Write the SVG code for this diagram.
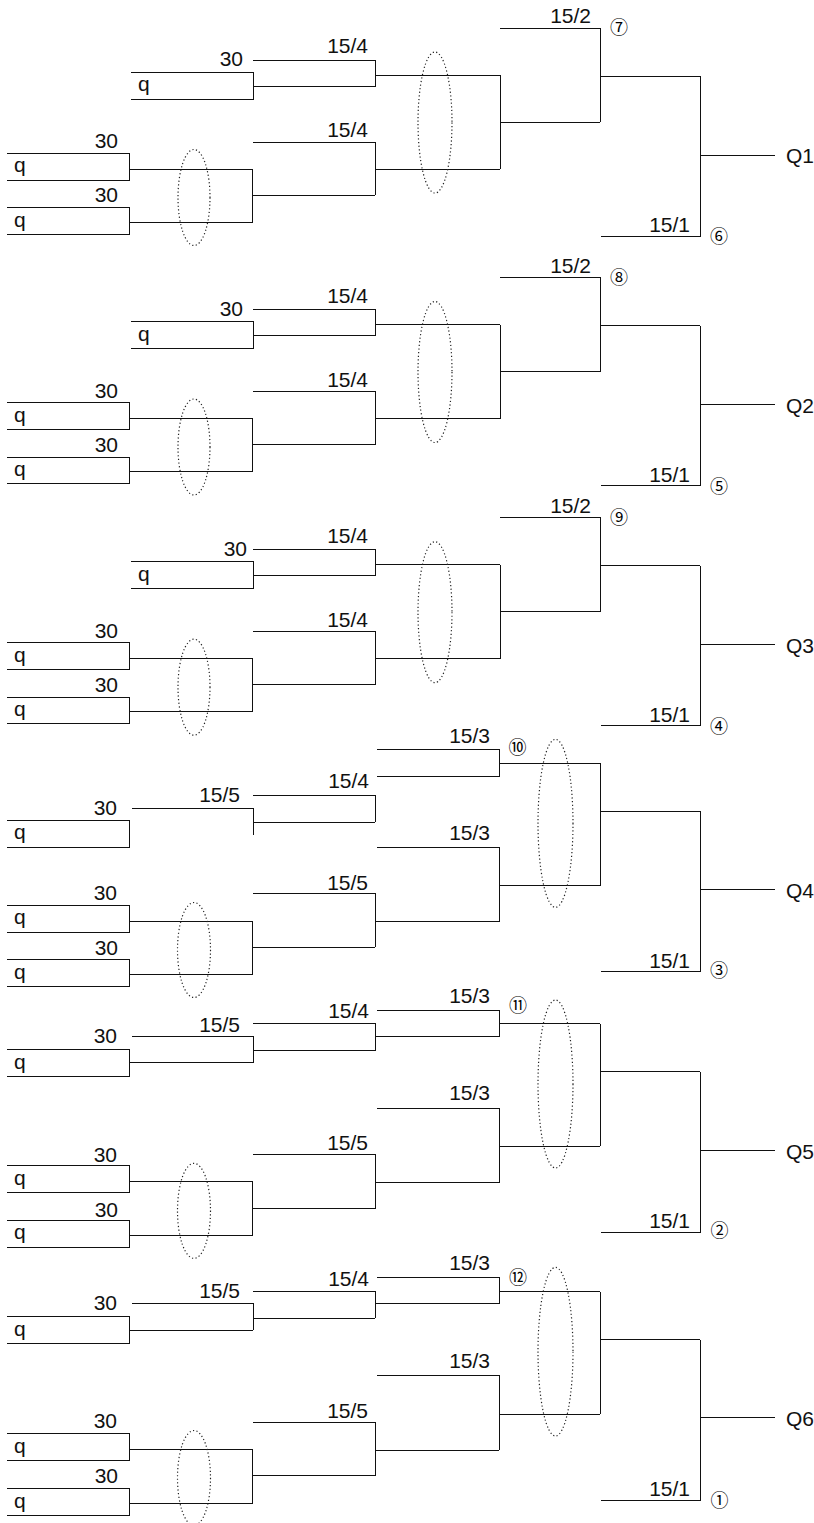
<svg xmlns="http://www.w3.org/2000/svg" width="814" height="1523" viewBox="0 0 814 1523">
<style>
  .ln{fill:none;stroke:#111;stroke-width:1;shape-rendering:crispEdges}
  .el{fill:none;stroke:#222;stroke-width:1.2;stroke-dasharray:1.2 2.4}
  text{font-family:"Liberation Sans",Arial,sans-serif;font-size:21px;fill:#111}
  .e{text-anchor:end}
  .c{font-family:"Noto Sans CJK JP","DejaVu Sans",sans-serif;font-size:18px;text-anchor:middle;fill:#000}
</style>
<rect width="814" height="1523" fill="#fff"/>

<g id="block-Q1">
  <g id="b1-connectors" class="ln"><path d="M253,60H375V86H253M375,75H500M130,169H252V222H130M252,195H375M253,142H375V195M375,169H500M500,75V169M500,122H600M500,28H600V122M600,76H700M601,236H700V76M700,155H775"/></g>
  <g id="b1-in1"><path class="ln" d="M131,72H253V99H131"/><text class="e" x="243" y="66">30</text><text x="138" y="91">q</text></g>
  <g id="b1-in2"><path class="ln" d="M7,153H129.5V180H7"/><text class="e" x="118" y="148">30</text><text x="14" y="172">q</text></g>
  <g id="b1-in3"><path class="ln" d="M7,207.5H129.5V234H7"/><text class="e" x="118" y="202">30</text><text x="14" y="226.5">q</text></g>
  <g id="b1-labels"><text class="e" x="368" y="53">15/4</text><text class="e" x="368" y="137">15/4</text><text class="e" x="591" y="23">15/2</text><text class="e" x="690" y="232">15/1</text></g>
  <g id="b1-marks"><text class="c" x="619" y="34">⑦</text><text class="c" x="719" y="243">⑥</text></g>
  <g id="b1-out"><text x="786" y="163">Q1</text></g>
  <g id="b1-groups"><ellipse class="el" cx="194" cy="197.5" rx="16" ry="48"/><ellipse class="el" cx="435" cy="122.5" rx="17" ry="70.5"/></g>
</g>

<g id="block-Q2" transform="translate(0,249.5)">
  <g id="b2-connectors" class="ln"><path d="M253,60H375V86H253M375,75H500M130,169H252V222H130M252,195H375M253,142H375V195M375,169H500M500,75V169M500,122H600M500,28H600V122M600,76H700M601,236H700V76M700,155H775"/></g>
  <g id="b2-in1"><path class="ln" d="M131,72H253V99H131"/><text class="e" x="243" y="66">30</text><text x="138" y="91">q</text></g>
  <g id="b2-in2"><path class="ln" d="M7,153H129.5V180H7"/><text class="e" x="118" y="148">30</text><text x="14" y="172">q</text></g>
  <g id="b2-in3"><path class="ln" d="M7,207.5H129.5V234H7"/><text class="e" x="118" y="202">30</text><text x="14" y="226.5">q</text></g>
  <g id="b2-labels"><text class="e" x="368" y="53">15/4</text><text class="e" x="368" y="137">15/4</text><text class="e" x="591" y="23">15/2</text><text class="e" x="690" y="232">15/1</text></g>
  <g id="b2-marks"><text class="c" x="619" y="34">⑧</text><text class="c" x="719" y="243">⑤</text></g>
  <g id="b2-out"><text x="786" y="163">Q2</text></g>
  <g id="b2-groups"><ellipse class="el" cx="194" cy="197.5" rx="16" ry="48"/><ellipse class="el" cx="435" cy="122.5" rx="17" ry="70.5"/></g>
</g>

<g id="block-Q3" transform="translate(0,489.7)">
  <g id="b3-connectors" class="ln"><path d="M253,60H375V86H253M375,75H500M130,169H252V222H130M252,195H375M253,142H375V195M375,169H500M500,75V169M500,122H600M500,28H600V122M600,76H700M601,236H700V76M700,155H775"/></g>
  <g id="b3-in1"><path class="ln" d="M131,72H253V99H131"/><text class="e" x="247" y="66">30</text><text x="138" y="91">q</text></g>
  <g id="b3-in2"><path class="ln" d="M7,153H129.5V180H7"/><text class="e" x="118" y="148">30</text><text x="14" y="172">q</text></g>
  <g id="b3-in3"><path class="ln" d="M7,207.5H129.5V234H7"/><text class="e" x="118" y="202">30</text><text x="14" y="226.5">q</text></g>
  <g id="b3-labels"><text class="e" x="368" y="53">15/4</text><text class="e" x="368" y="137">15/4</text><text class="e" x="591" y="23">15/2</text><text class="e" x="690" y="232">15/1</text></g>
  <g id="b3-marks"><text class="c" x="619" y="34">⑨</text><text class="c" x="719" y="243">④</text></g>
  <g id="b3-out"><text x="786" y="163">Q3</text></g>
  <g id="b3-groups"><ellipse class="el" cx="194" cy="197.5" rx="16" ry="48"/><ellipse class="el" cx="435" cy="122.5" rx="17" ry="70.5"/></g>
</g>

<g id="block-Q4">
  <g id="b4-connectors" class="ln"><path d="M377,749H499V776H377M499,763H600M253,795H375V822M131.5,808H253V834.5M253,822H375M377,847.5H499V921.5M499,885.5H600M253,893.5H375V947M375,921.5H499M130,921H252V974.5H130M252,947H375M600,763V885.5M600,811H700M601,971.5H700V811M700,889.5H775"/></g>
  <g id="b4-in1"><path class="ln" d="M7,820H129.5V847H7"/><text class="e" x="117" y="815">30</text><text x="14" y="839">q</text></g>
  <g id="b4-in2"><path class="ln" d="M7,905H129.5V932H7"/><text class="e" x="117" y="900">30</text><text x="14" y="924">q</text></g>
  <g id="b4-in3"><path class="ln" d="M7,959.5H129.5V986.5H7"/><text class="e" x="118" y="955">30</text><text x="14" y="978.5">q</text></g>
  <g id="b4-labels"><text class="e" x="490" y="743">15/3</text><text class="e" x="369" y="788">15/4</text><text class="e" x="240" y="802">15/5</text><text class="e" x="490" y="840">15/3</text><text class="e" x="368" y="890">15/5</text><text class="e" x="690" y="967.5">15/1</text></g>
  <g id="b4-marks"><text class="c" x="517.5" y="753.5">⑩</text><text class="c" x="719" y="977">③</text></g>
  <g id="b4-out"><text x="786" y="897.5">Q4</text></g>
  <g id="b4-groups"><ellipse class="el" cx="194" cy="950" rx="16.5" ry="47.5"/><ellipse class="el" cx="555.5" cy="823.3" rx="17.5" ry="84"/></g>
</g>

<g id="block-Q5">
  <g id="b5-connectors" class="ln"><path d="M377,1010H499V1036.5M499,1023.5H600M253,1023.5H375V1050.5M375,1036.5H499M131.5,1036.5H253V1062.5M253,1050.5H375M130,1062.5H253M377,1108H499V1182.5M499,1146H600M253,1154.5H375V1208.5M375,1182.5H499M130,1181.5H252V1235H130M252,1208.5H375M600,1023.5V1146M600,1071.5H700M601,1232.5H700V1071.5M700,1150.5H775"/></g>
  <g id="b5-in1"><path class="ln" d="M7,1049.5H129.5V1076H7"/><text class="e" x="117" y="1043">30</text><text x="14" y="1068.5">q</text></g>
  <g id="b5-in2"><path class="ln" d="M7,1165.5H129.5V1192.5H7"/><text class="e" x="117" y="1162">30</text><text x="14" y="1184.5">q</text></g>
  <g id="b5-in3"><path class="ln" d="M7,1220H129.5V1247H7"/><text class="e" x="118" y="1217">30</text><text x="14" y="1239">q</text></g>
  <g id="b5-labels"><text class="e" x="490" y="1003">15/3</text><text class="e" x="369" y="1018">15/4</text><text class="e" x="240" y="1032">15/5</text><text class="e" x="490" y="1100">15/3</text><text class="e" x="368" y="1150">15/5</text><text class="e" x="690" y="1228">15/1</text></g>
  <g id="b5-marks"><text class="c" x="518" y="1011.5">⑪</text><text class="c" x="719.5" y="1237">②</text></g>
  <g id="b5-out"><text x="786" y="1158.5">Q5</text></g>
  <g id="b5-groups"><ellipse class="el" cx="194" cy="1210.8" rx="16.5" ry="47.5"/><ellipse class="el" cx="555.5" cy="1084" rx="17.5" ry="84"/></g>
</g>

<g id="block-Q6">
  <g id="b6-connectors" class="ln"><path d="M377,1277.5H499V1303.5M499,1291.5H600M253,1291H375V1318M375,1303.5H499M131.5,1303.5H253V1330M253,1318H375M130,1330H253M377,1375.5H499V1450M499,1414H600M253,1422.5H375V1475.5M375,1450H499M130,1449.5H252V1503H130M252,1475.5H375M600,1291.5V1414M600,1339.5H700M601,1500H700V1339.5M700,1417.5H775"/></g>
  <g id="b6-in1"><path class="ln" d="M7,1316.5H129.5V1343.5H7"/><text class="e" x="117" y="1310">30</text><text x="14" y="1335.5">q</text></g>
  <g id="b6-in2"><path class="ln" d="M7,1433.5H129.5V1460.5H7"/><text class="e" x="117" y="1428">30</text><text x="14" y="1452.5">q</text></g>
  <g id="b6-in3"><path class="ln" d="M7,1488.5H129.5V1515.5H7"/><text class="e" x="118" y="1483">30</text><text x="14" y="1507.5">q</text></g>
  <g id="b6-labels"><text class="e" x="490" y="1270">15/3</text><text class="e" x="369" y="1286">15/4</text><text class="e" x="240" y="1298">15/5</text><text class="e" x="490" y="1368">15/3</text><text class="e" x="368" y="1418">15/5</text><text class="e" x="690" y="1496">15/1</text></g>
  <g id="b6-marks"><text class="c" x="518" y="1283.5">⑫</text><text class="c" x="719.5" y="1507">①</text></g>
  <g id="b6-out"><text x="786" y="1425.5">Q6</text></g>
  <g id="b6-groups"><ellipse class="el" cx="194" cy="1478" rx="16.5" ry="47.5"/><ellipse class="el" cx="555.5" cy="1351.7" rx="17.5" ry="84.3"/></g>
</g>
</svg>
